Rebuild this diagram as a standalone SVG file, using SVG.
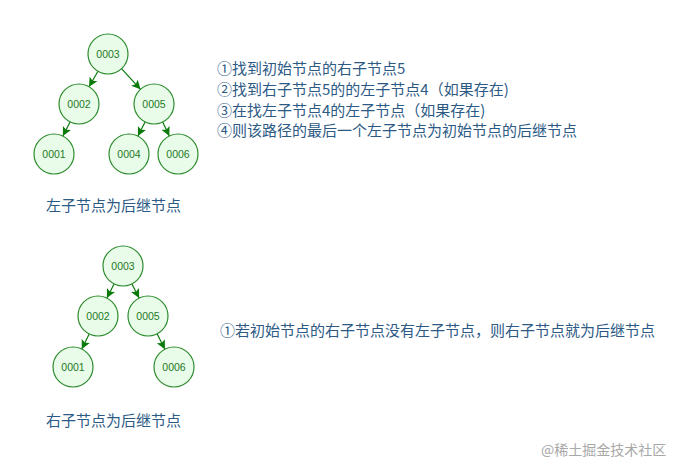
<svg xmlns="http://www.w3.org/2000/svg" width="684" height="471" viewBox="0 0 684 471">
<defs>
<style>
.node circle{fill:#e9fbe9;stroke:#2e8b2e;stroke-width:1.2}
.node text{font-family:"Liberation Sans","Noto Sans",sans-serif;font-size:10.5px;fill:#1f7a1f;text-anchor:middle;dominant-baseline:central}
.edge{stroke:#0a7a0a;stroke-width:1.2;fill:none;marker-end:url(#arr)}
.lbl{font-family:"Noto Sans CJK SC","Noto Sans",sans-serif;font-size:15px;fill:#2c5a85}
.wm{font-family:"Noto Sans CJK SC","Noto Sans",sans-serif;font-size:14px;fill:#a8a8a8}
</style>
<marker id="arr" markerUnits="userSpaceOnUse" markerWidth="10" markerHeight="10" refX="9" refY="4.5" orient="auto" viewBox="0 0 10 9">
<path d="M0,0 L9,4.5 L0,9 L2,4.5 z" fill="#0a7a0a"/>
</marker>
</defs>
<rect width="684" height="471" fill="#ffffff"/>
<g id="connectors">
<line class="edge" x1="98" y1="71.3" x2="89" y2="86.7"/>
<line class="edge" x1="121.5" y1="68.7" x2="140.5" y2="89.3"/>
<line class="edge" x1="70.1" y1="121.9" x2="62.9" y2="136.1"/>
<line class="edge" x1="145.1" y1="121.9" x2="137.9" y2="136.1"/>
<line class="edge" x1="162.7" y1="122" x2="169.3" y2="136"/>
<line class="edge" x1="114.1" y1="283.9" x2="106.9" y2="298.1"/>
<line class="edge" x1="131.9" y1="283.9" x2="139.1" y2="298.1"/>
<line class="edge" x1="89.2" y1="334" x2="81.8" y2="349"/>
<line class="edge" x1="157.1" y1="333.8" x2="164.9" y2="349.2"/>
</g>
<g id="t1-n3" class="node"><circle cx="108" cy="54" r="20"/><text x="108" y="54">0003</text></g>
<g id="t1-n2" class="node"><circle cx="79" cy="104" r="20"/><text x="79" y="104">0002</text></g>
<g id="t1-n5" class="node"><circle cx="154" cy="104" r="20"/><text x="154" y="104">0005</text></g>
<g id="t1-n1" class="node"><circle cx="54" cy="154" r="20"/><text x="54" y="154">0001</text></g>
<g id="t1-n4" class="node"><circle cx="129" cy="154" r="20"/><text x="129" y="154">0004</text></g>
<g id="t1-n6" class="node"><circle cx="178" cy="154" r="20"/><text x="178" y="154">0006</text></g>
<g id="t2-n3" class="node"><circle cx="123" cy="266" r="20"/><text x="123" y="266">0003</text></g>
<g id="t2-n2" class="node"><circle cx="98" cy="316" r="20"/><text x="98" y="316">0002</text></g>
<g id="t2-n5" class="node"><circle cx="148" cy="316" r="20"/><text x="148" y="316">0005</text></g>
<g id="t2-n1" class="node"><circle cx="73" cy="367" r="20"/><text x="73" y="367">0001</text></g>
<g id="t2-n6" class="node"><circle cx="174" cy="367" r="20"/><text x="174" y="367">0006</text></g>
<g id="texts">
<text class="lbl" x="217" y="74">①找到初始节点的右子节点5</text>
<text class="lbl" x="217" y="95">②找到右子节点5的的左子节点4（如果存在)</text>
<text class="lbl" x="217" y="115.5">③在找左子节点4的左子节点（如果存在)</text>
<text class="lbl" x="217" y="136">④则该路径的最后一个左子节点为初始节点的后继节点</text>
<text class="lbl" x="46" y="210.7">左子节点为后继节点</text>
<text class="lbl" x="220" y="335.5">①若初始节点的右子节点没有左子节点，则右子节点就为后继节点</text>
<text class="lbl" x="46" y="426">右子节点为后继节点</text>
<text class="wm" x="541" y="455">@稀土掘金技术社区</text>
</g>
</svg>
